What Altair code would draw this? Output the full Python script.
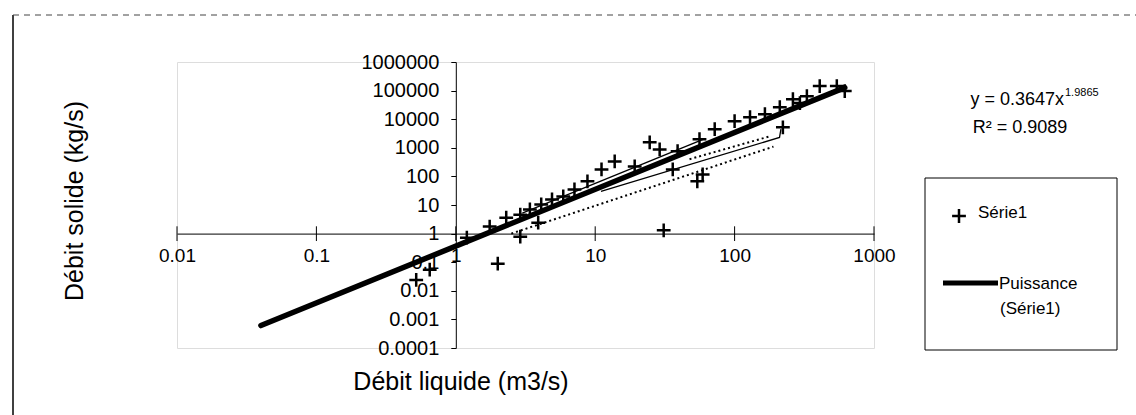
import math
import altair as alt
import pandas as pd

# Mesures : débit liquide (m3/s) et débit solide (kg/s)
debit_liquide = [0.52, 0.65, 1.2, 1.75, 2.0, 2.3, 2.9, 2.9, 3.4, 3.9, 4.1, 4.9, 5.9,
                 7.1, 8.8, 11.1, 13.8, 19.2, 24.6, 29, 31, 36, 39, 54, 56, 59,
                 72, 100, 129, 165, 211, 222, 262, 294, 330, 408, 541, 617]
debit_solide = [0.024, 0.055, 0.72, 1.76, 0.089, 3.6, 4.6, 0.78, 7.0, 2.4, 10.4, 15.6, 20,
                35, 67, 176, 335, 224, 1560, 880, 1.3, 176, 760, 67, 2000, 117,
                4470, 8500, 11700, 15000, 26400, 5200, 50000, 36500, 64000, 144000, 144000, 96000]

# Courbe de tendance (puissance) affichée sur le graphique
coef_a = 0.3647
expo_b = 1.9865
r2 = 0.9089
tendance_x = [0.04, 617]

# Tracés fins complémentaires
fin_haut_x = [3, 60]
fin_haut_y = [5.2, 2000]
fin_bas_x = [11, 210, 215]
fin_bas_y = [30, 2300, 4500]
pointille_1_x = [2.5, 190]
pointille_1_y = [1.0, 1100]
pointille_2_x = [47.5, 178]
pointille_2_y = [400, 2500]

x_ticks = [0.01, 0.1, 1, 10, 100, 1000]
y_ticks = [0.0001, 0.001, 0.01, 0.1, 1, 10, 100, 1000, 10000, 100000, 1000000]

W, H = 697, 286
PAD_L, PAD_T = 177, 62
FONT = "Liberation Sans"
PLUS = "M-1,0H1M0,-1V1"

x_dom = [x_ticks[0], x_ticks[-1]]
y_dom = [y_ticks[0], y_ticks[-1]]

# axes croisés en (1, 1)
x_cross_px = W * (math.log10(1) - math.log10(x_dom[0])) / (math.log10(x_dom[1]) - math.log10(x_dom[0]))
y_cross_px = H * (math.log10(1) - math.log10(y_dom[0])) / (math.log10(y_dom[1]) - math.log10(y_dom[0]))

xs = alt.Scale(type="log", domain=x_dom, nice=False)
ys = alt.Scale(type="log", domain=y_dom, nice=False)

x_axis = alt.Axis(values=x_ticks, format=".2~f", offset=-y_cross_px, tickSize=0,
                  labelPadding=13, labelFontSize=19, labelColor="black", labelFont=FONT,
                  domainColor="black", domainWidth=1, grid=False, title=None,
                  labelFlush=False, labelOverlap=False)
y_axis = alt.Axis(values=y_ticks, format=".4~f", offset=-x_cross_px, tickSize=5,
                  tickColor="black", labelPadding=12, labelFontSize=20, labelColor="black",
                  labelFont=FONT, domainColor="black", domainWidth=1, grid=False,
                  title=None, labelFlush=False, labelOverlap=False)


def X(field="Q"):
    return alt.X(f"{field}:Q", scale=xs, axis=x_axis)


def Y(field="S"):
    return alt.Y(f"{field}:Q", scale=ys, axis=y_axis)


pts = pd.DataFrame({"Q": debit_liquide, "S": debit_solide})
tend = pd.DataFrame({"Q": tendance_x, "S": [coef_a * q ** expo_b for q in tendance_x]})


def serie(xv, yv, name):
    return pd.DataFrame({"Q": xv, "S": yv, "g": name})


fins = pd.concat([serie(fin_haut_x, fin_haut_y, "h"), serie(fin_bas_x, fin_bas_y, "b")])
pointilles = pd.concat([serie(pointille_1_x, pointille_1_y, "p1"),
                        serie(pointille_2_x, pointille_2_y, "p2")])
ticks_df = pd.DataFrame({"Q": x_ticks, "S": [0.55] * len(x_ticks), "S2": [1.8] * len(x_ticks)})

points = alt.Chart(pts).mark_point(shape=PLUS, size=190, strokeWidth=2.5, filled=False,
                                   color="black", opacity=1).encode(x=X(), y=Y())
trend = alt.Chart(tend).mark_line(color="black", strokeWidth=5.5, strokeCap="round").encode(x=X(), y=Y())
thin = alt.Chart(fins).mark_line(color="black", strokeWidth=1.3).encode(x=X(), y=Y(), detail="g:N")
dotted = alt.Chart(pointilles).mark_line(color="black", strokeWidth=2, strokeDash=[2, 3]).encode(
    x=X(), y=Y(), detail="g:N")
cross_ticks = alt.Chart(ticks_df).mark_rule(color="black", strokeWidth=1).encode(
    x=X(), y=Y(), y2="S2:Q")

one = alt.Data(values=[{"k": 0}])


def txt(s, x, y, size=17, align="left", angle=0, baseline="middle"):
    return alt.Chart(one).mark_text(text=s, fontSize=size, font=FONT, align=align,
                                    baseline=baseline, angle=angle, color="black").encode(
        x=alt.value(x), y=alt.value(y))


def rule(x, y, x2, y2, width=1, dash=None, color="black"):
    kw = dict(color=color, strokeWidth=width)
    if dash:
        kw["strokeDash"] = dash
    return alt.Chart(one).mark_rule(**kw).encode(
        x=alt.value(x), y=alt.value(y), x2=alt.value(x2), y2=alt.value(y2))


# titres des axes
x_title = txt("Débit liquide (m3/s)", 461 - PAD_L, 382 - PAD_T, size=25, align="center")
y_title = txt("Débit solide (kg/s)", 75 - PAD_L, 201 - PAD_T, size=25, align="center", angle=270)

# équation de la tendance
eq_main = txt(f"y = {coef_a}x", 1064 - PAD_L, 100 - PAD_T, size=18, align="right")
eq_sup = txt(f"{expo_b}", 1065 - PAD_L, 93 - PAD_T, size=11, align="left")
eq_r2 = txt(f"R² = {r2}", 1020 - PAD_L, 128 - PAD_T, size=18, align="center")

# légende
leg_box = alt.Chart(one).mark_rect(fill="white", fillOpacity=0, stroke="black", strokeWidth=1).encode(
    x=alt.value(925 - PAD_L), x2=alt.value(1117 - PAD_L),
    y=alt.value(178 - PAD_T), y2=alt.value(350 - PAD_T))
leg_plus = alt.Chart(one).mark_point(shape=PLUS, size=190, strokeWidth=2.5, filled=False,
                                     color="black", opacity=1).encode(
    x=alt.value(959 - PAD_L), y=alt.value(216 - PAD_T))
leg_t1 = txt("Série1", 978 - PAD_L, 213 - PAD_T)
leg_line = rule(943 - PAD_L, 283 - PAD_T, 998 - PAD_L, 283 - PAD_T, width=5)
leg_t2 = txt("Puissance", 999 - PAD_L, 284 - PAD_T)
leg_t3 = txt("(Série1)", 1000 - PAD_L, 309 - PAD_T)

# cadre extérieur
frame_left = rule(13 - PAD_L, 15 - PAD_T, 13 - PAD_L, 415 - PAD_T, width=1.5)
frame_top = rule(13 - PAD_L, 15 - PAD_T, 1136 - PAD_L, 15 - PAD_T, width=1, dash=[6, 5], color="#444")

chart = alt.layer(
    thin, dotted, trend, points, cross_ticks,
    x_title, y_title, eq_main, eq_sup, eq_r2,
    leg_box, leg_plus, leg_t1, leg_line, leg_t2, leg_t3,
    frame_left, frame_top,
).properties(
    width=W, height=H,
    autosize=alt.AutoSizeParams(type="none"),
    padding={"left": PAD_L, "top": PAD_T, "right": 1136 - PAD_L - W, "bottom": 415 - PAD_T - H},
).configure_view(stroke="black", strokeWidth=1).configure(background="white")

chart.save("out.html", embed_options={"renderer": "svg", "actions": False})
